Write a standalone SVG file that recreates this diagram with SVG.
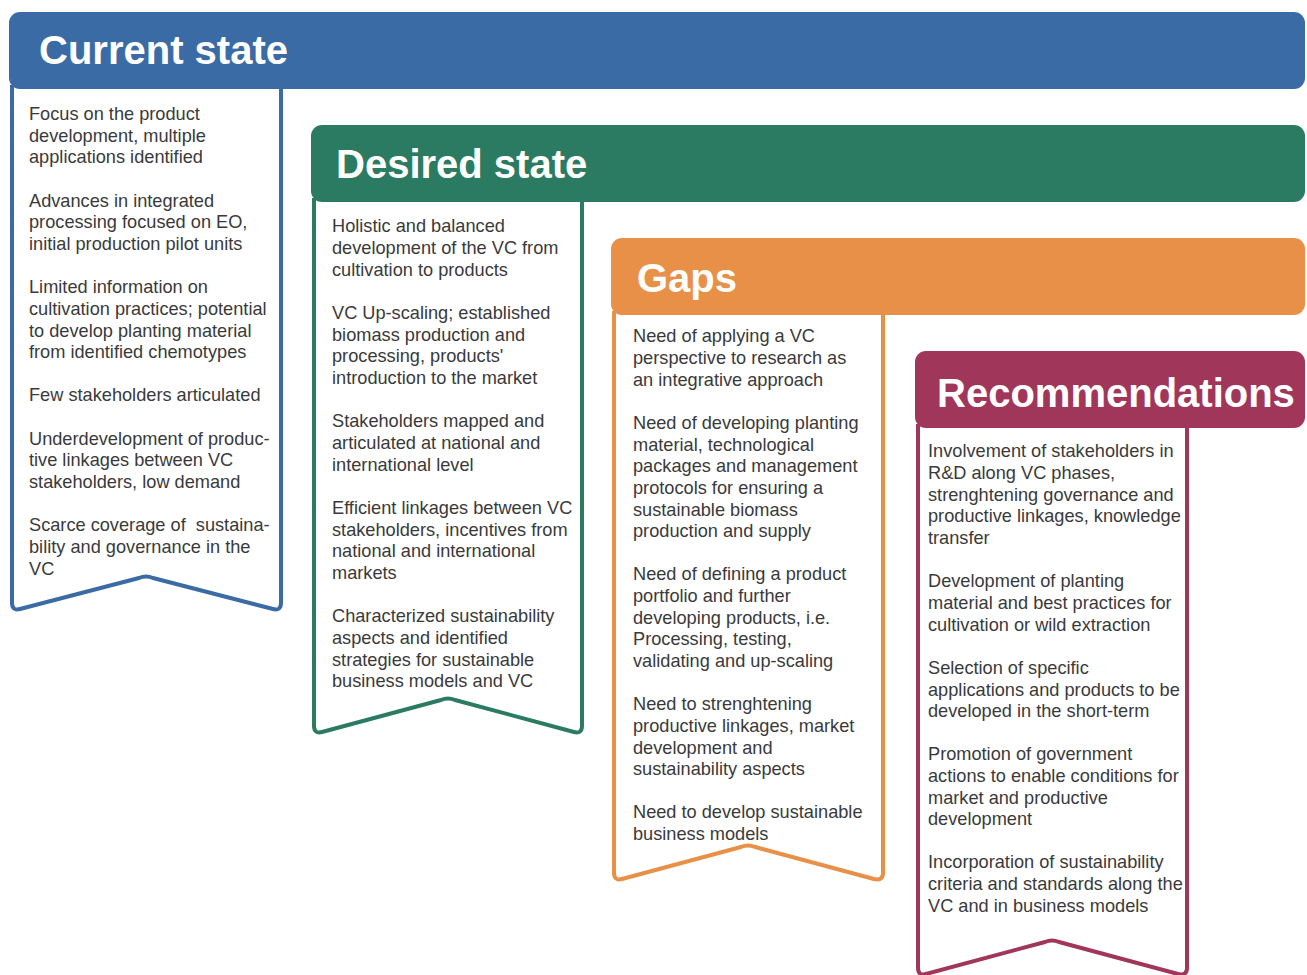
<svg xmlns="http://www.w3.org/2000/svg" width="1307" height="975" viewBox="0 0 1307 975">
<style>
.t{font-family:"Liberation Sans",Arial,sans-serif;font-size:18.2px;fill:#3a3a3a}
.h{font-family:"Liberation Sans",Arial,sans-serif;font-size:40px;font-weight:bold;fill:#ffffff}
.b{fill:#ffffff;stroke-width:4;stroke-linejoin:round}
</style>
<rect width="1307" height="975" fill="#ffffff"/>
<g id="current">
<path class="b" stroke="#3b6ba5" d="M12,85 V603 Q12,611 20,609 L139,578 Q146,575 153,578 L273,609 Q281,611 281,603 V85"/>
<rect x="9" y="12" width="1296" height="77" rx="11" fill="#3b6ba5"/>
<text class="h" x="39" y="64">Current state</text>
<text class="t"><tspan x="29" y="120">Focus on the product</tspan><tspan x="29" y="142">development, multiple</tspan><tspan x="29" y="163">applications identified</tspan><tspan x="29" y="207">Advances in integrated</tspan><tspan x="29" y="228">processing focused on EO,</tspan><tspan x="29" y="250">initial production pilot units</tspan><tspan x="29" y="293">Limited information on</tspan><tspan x="29" y="315">cultivation practices; potential</tspan><tspan x="29" y="337">to develop planting material</tspan><tspan x="29" y="358">from identified chemotypes</tspan><tspan x="29" y="401">Few stakeholders articulated</tspan><tspan x="29" y="445">Underdevelopment of produc-</tspan><tspan x="29" y="466">tive linkages between VC</tspan><tspan x="29" y="488">stakeholders, low demand</tspan><tspan x="29" y="531">Scarce coverage of&#160; sustaina-</tspan><tspan x="29" y="553">bility and governance in the</tspan><tspan x="29" y="575">VC</tspan></text>
</g>
<g id="desired">
<path class="b" stroke="#2b7b62" d="M314,198 V726 Q314,734 322,732 L441,700 Q448,697 455,700 L574,732 Q582,734 582,726 V198"/>
<rect x="311" y="125" width="994" height="77" rx="11" fill="#2b7b62"/>
<text class="h" x="336" y="178">Desired state</text>
<text class="t"><tspan x="332" y="232">Holistic and balanced</tspan><tspan x="332" y="254">development of the VC from</tspan><tspan x="332" y="276">cultivation to products</tspan><tspan x="332" y="319">VC Up-scaling; established</tspan><tspan x="332" y="341">biomass production and</tspan><tspan x="332" y="362">processing, products'</tspan><tspan x="332" y="384">introduction to the market</tspan><tspan x="332" y="427">Stakeholders mapped and</tspan><tspan x="332" y="449">articulated at national and</tspan><tspan x="332" y="471">international level</tspan><tspan x="332" y="514">Efficient linkages between VC</tspan><tspan x="332" y="536">stakeholders, incentives from</tspan><tspan x="332" y="557">national and international</tspan><tspan x="332" y="579">markets</tspan><tspan x="332" y="622">Characterized sustainability</tspan><tspan x="332" y="644">aspects and identified</tspan><tspan x="332" y="666">strategies for sustainable</tspan><tspan x="332" y="687">business models and VC</tspan></text>
</g>
<g id="gaps">
<path class="b" stroke="#e89047" d="M614,311 V873 Q614,881 622,879 L741,847 Q748,844 755,847 L874,879 Q883,881 883,873 V311"/>
<rect x="611" y="238" width="694" height="77" rx="11" fill="#e89047"/>
<text class="h" x="637" y="292">Gaps</text>
<text class="t"><tspan x="633" y="342">Need of applying a VC</tspan><tspan x="633" y="364">perspective to research as</tspan><tspan x="633" y="386">an integrative approach</tspan><tspan x="633" y="429">Need of developing planting</tspan><tspan x="633" y="451">material, technological</tspan><tspan x="633" y="472">packages and management</tspan><tspan x="633" y="494">protocols for ensuring a</tspan><tspan x="633" y="516">sustainable biomass</tspan><tspan x="633" y="537">production and supply</tspan><tspan x="633" y="580">Need of defining a product</tspan><tspan x="633" y="602">portfolio and further</tspan><tspan x="633" y="624">developing products, i.e.</tspan><tspan x="633" y="645">Processing, testing,</tspan><tspan x="633" y="667">validating and up-scaling</tspan><tspan x="633" y="710">Need to strenghtening</tspan><tspan x="633" y="732">productive linkages, market</tspan><tspan x="633" y="754">development and</tspan><tspan x="633" y="775">sustainability aspects</tspan><tspan x="633" y="818">Need to develop sustainable</tspan><tspan x="633" y="840">business models</tspan></text>
</g>
<g id="recommendations">
<path class="b" stroke="#a0375a" d="M918,424 V968 Q918,976 926,974 L1045,942 Q1052,939 1059,942 L1178,974 Q1187,976 1187,968 V424"/>
<rect x="915" y="351" width="390" height="77" rx="11" fill="#a0375a"/>
<text class="h" x="937" y="407">Recommendations</text>
<text class="t"><tspan x="928" y="457">Involvement of stakeholders in</tspan><tspan x="928" y="479">R&amp;D along VC phases,</tspan><tspan x="928" y="501">strenghtening governance and</tspan><tspan x="928" y="522">productive linkages, knowledge</tspan><tspan x="928" y="544">transfer</tspan><tspan x="928" y="587">Development of planting</tspan><tspan x="928" y="609">material and best practices for</tspan><tspan x="928" y="631">cultivation or wild extraction</tspan><tspan x="928" y="674">Selection of specific</tspan><tspan x="928" y="696">applications and products to be</tspan><tspan x="928" y="717">developed in the short-term</tspan><tspan x="928" y="760">Promotion of government</tspan><tspan x="928" y="782">actions to enable conditions for</tspan><tspan x="928" y="804">market and productive</tspan><tspan x="928" y="825">development</tspan><tspan x="928" y="868">Incorporation of sustainability</tspan><tspan x="928" y="890">criteria and standards along the</tspan><tspan x="928" y="912">VC and in business models</tspan></text>
</g>
</svg>
